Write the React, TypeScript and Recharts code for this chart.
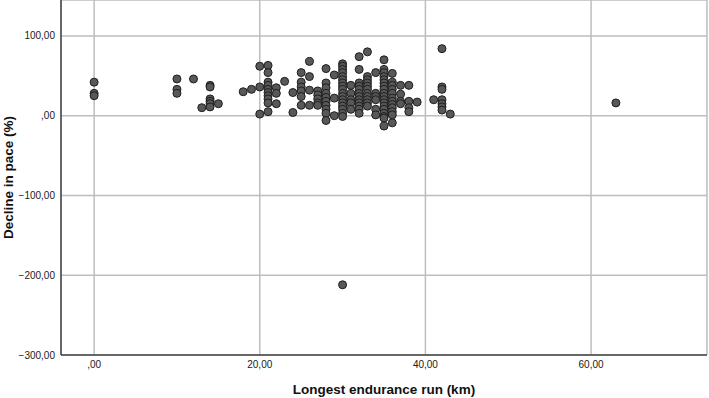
import { CartesianGrid, Label, Scatter, ScatterChart, XAxis, YAxis } from "recharts";

// longest endurance run (km) -> decline in pace (%) for each runner at that distance
const runKm = [0, 10, 12, 13, 14, 15, 18, 19, 20, 21, 22, 23, 24, 25, 26, 27, 28, 29, 30, 31, 32, 33, 34, 35, 36, 37, 38, 39, 41, 42, 43, 63];
const declineByKm = [
  [42, 28, 25],
  [46, 33, 28],
  [46],
  [10],
  [38, 36, 21, 18, 15, 11],
  [15],
  [30],
  [33],
  [62, 36, 2],
  [63, 54, 42, 38, 33, 29, 25, 21, 16, 5],
  [35, 28, 15],
  [43],
  [29, 4],
  [54, 42, 36, 31, 24, 13],
  [68, 49, 32, 13],
  [31, 26, 21, 16, 13],
  [59, 41, 35, 28, 23, 18, 13, 8, 3, -6],
  [51, 22, 0],
  [65, 62, 58, 54, 49, 45, 41, 37, 33, 28, 24, 20, 16, 12, 8, 3, -1, -212],
  [38, 28, 20, 16, 8],
  [74, 58, 41, 37, 33, 28, 24, 20, 16, 12, 8, 3],
  [80, 49, 45, 41, 37, 33, 28, 24, 20, 16, 12],
  [54, 28, 24, 20, 8, 1],
  [70, 58, 54, 49, 45, 41, 37, 33, 28, 24, 20, 16, 12, 8, 3, -1, -3, -13],
  [53, 42, 38, 33, 28, 22, 18, 14, 10, 5, 1, -9],
  [38, 27, 18, 15],
  [38, 18, 10, 5],
  [17],
  [20],
  [84, 36, 33, 20, 15, 11, 7],
  [2],
  [16],
];

const xTicks = [0, 20, 40, 60];
const yTicks = [-300, -200, -100, 0, 100];

const points = runKm.flatMap((km, i) => declineByKm[i].map((d) => ({ km, decline: d })));

const FONT = '"Liberation Sans", Arial, sans-serif';

// SPSS style: comma decimals, no leading zero, real minus sign
const fmt = (v: number) => {
  const s = Math.abs(v).toFixed(2).replace(".", ",");
  const t = s.startsWith("0,") ? s.slice(1) : s;
  return v < 0 ? "\u2212" + t : t;
};

const tickStyle = { fill: "#1a1a1a", fontSize: 10, fontFamily: FONT };

export default function App() {
  return (
    <div style={{ position: "absolute", left: 0, top: 0, background: "#fff" }}>
      <ScatterChart width={709} height={398} margin={{ top: 0, right: 2, bottom: 0, left: 0 }}>
        <CartesianGrid stroke="#bdbdbd" strokeWidth={1.5} />
        <XAxis
          type="number"
          dataKey="km"
          domain={[-4, 74]}
          allowDataOverflow
          ticks={xTicks}
          tickFormatter={fmt}
          tick={tickStyle}
          tickLine={false}
          tickSize={5}
          tickMargin={1}
          height={43}
          stroke="#444"
          strokeWidth={1.5}
        >
          <Label
            value="Longest endurance run (km)"
            position="insideBottom"
            offset={4}
            style={{ fontSize: 13.5, fontWeight: 700, fontFamily: FONT, fill: "#111" }}
          />
        </XAxis>
        <YAxis
          type="number"
          dataKey="decline"
          domain={[-300, 145]}
          allowDataOverflow
          ticks={yTicks}
          tickFormatter={fmt}
          tick={tickStyle}
          tickLine={false}
          tickSize={4}
          tickMargin={2}
          width={61}
          stroke="#444"
          strokeWidth={1.5}
        >
          <Label
            content={({ viewBox }: any) => {
              const cx = viewBox.x + 8;
              const cy = viewBox.y + viewBox.height / 2;
              return (
                <text
                  x={cx}
                  y={cy}
                  transform={`rotate(-90, ${cx}, ${cy})`}
                  textAnchor="middle"
                  dominantBaseline="central"
                  style={{ fontSize: 13.5, fontWeight: 700, fontFamily: FONT, fill: "#111" }}
                >
                  Decline in pace (%)
                </text>
              );
            }}
          />
        </YAxis>
        <Scatter
          data={points}
          isAnimationActive={false}
          shape={(p: any) => <circle cx={p.cx} cy={p.cy} r={4} fill="#585858" stroke="#1e1e1e" strokeWidth={1} />}
        />
      </ScatterChart>
    </div>
  );
}
